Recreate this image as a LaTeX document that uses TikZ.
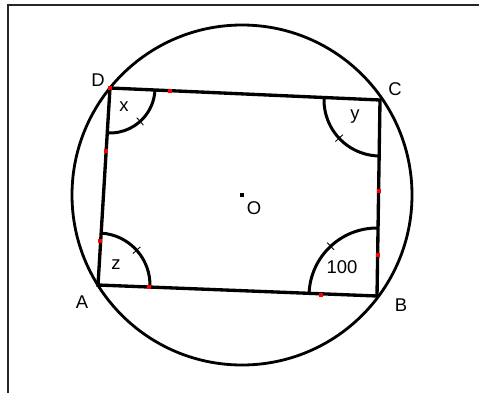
\documentclass[tikz,border=0pt]{standalone}
\usepackage{fontspec}
\setmainfont{Liberation Sans}
\usetikzlibrary{angles,calc}

\tikzset{
    side/.style={line width=1.9pt},
    anglearc/.style={draw, line width=1.7pt},
    tick/.style={line width=0.5pt},
    redmark/.style={fill=red},
    lbl/.style={font=\fontsize{10.5}{12}\selectfont, inner sep=0pt}
}

\begin{document}
\begin{tikzpicture}[x=0.02cm, y=0.02cm]
        \useasboundingbox (0,0) rectangle (479,393);

        % frame
        \draw[line width=1.2pt, black!85] (8,0) -- (8,388) -- (479,388);

        % circle and centre
        \coordinate (O) at (242,198);
        \draw[line width=1.6pt] (O) circle (170);
        \fill (240,196) rectangle (244,200);
        \node (lO) at (254,185) [lbl] {O};

        % vertices
        \coordinate (A) at (98,108);
        \coordinate (B) at (377,97);
        \coordinate (C) at (380,293);
        \coordinate (D) at (110,305);

        \draw[side] (A) -- (B) -- (C) -- (D) -- cycle;

        % angle arcs
        \pic[anglearc, angle radius=0.9cm] {angle=A--D--C};
        \pic[anglearc, angle radius=1.12cm] {angle=D--C--B};
        \pic[anglearc, angle radius=1.36cm] {angle=C--B--A};
        \pic[anglearc, angle radius=1.04cm] {angle=B--A--D};

        % ticks on the arcs
        \draw[tick] ($(D)+(312:40)$) -- ($(D)+(312:50)$);
        \draw[tick] ($(C)+(223:51)$) -- ($(C)+(223:61)$);
        \draw[tick] ($(B)+(133:63)$) -- ($(B)+(133:73)$);
        \draw[tick] ($(A)+(42:47)$) -- ($(A)+(42:57)$);

        % red marks
        \foreach \p in {(170,302), (106,242), (100,152), (149,106),
                        (321,98), (378,138), (379,202), (110,305)}
            \fill[redmark] \p ++(-2,-2) rectangle ++(4,4);

        % labels
        \node (lA) at (82,91) [lbl] {A};
        \node (lB) at (401,88) [lbl] {B};
        \node (lC) at (395,304) [lbl] {C};
        \node (lD) at (98,313) [lbl] {D};

        \node (lx) at (124,286) [lbl] {x};
        \node (ly) at (355,276) [lbl] {y};
        \node (lz) at (116,128) [lbl] {z};
        \node (l100) at (342,126) [lbl] {100};

    \end{tikzpicture}
\end{document}
